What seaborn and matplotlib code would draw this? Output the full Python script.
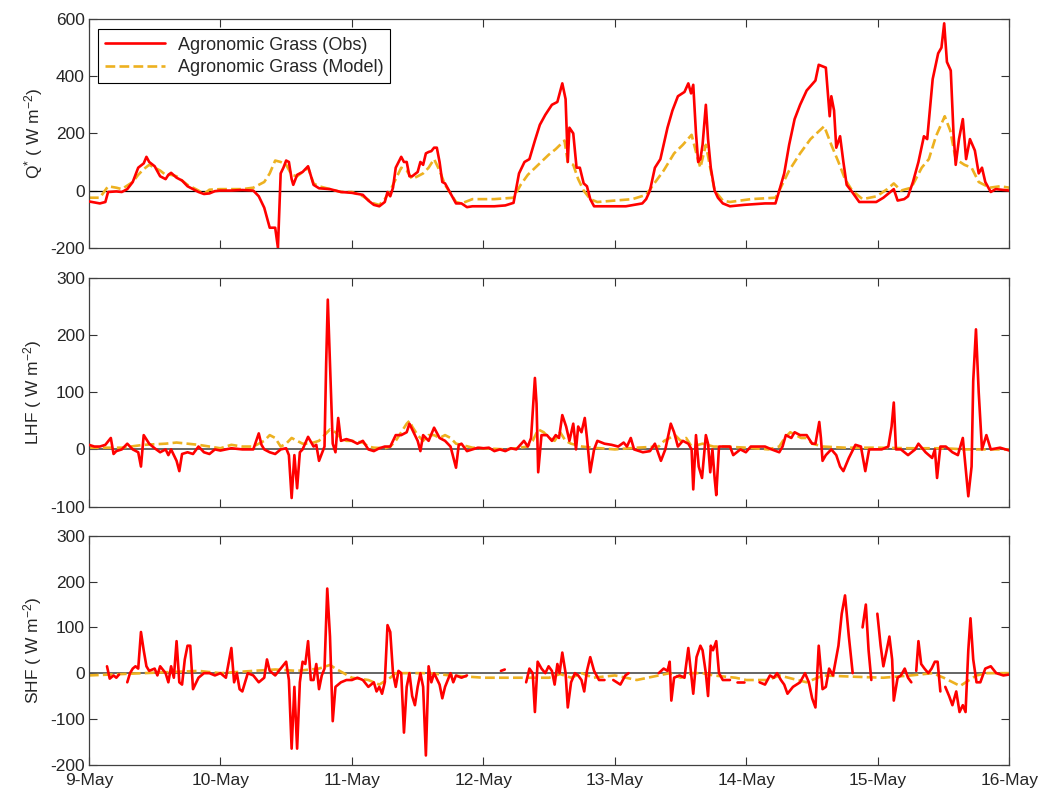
import numpy as np
import pandas as pd
import matplotlib
matplotlib.use("Agg")
import matplotlib.pyplot as plt
import matplotlib.dates as mdates
import seaborn as sns

START = pd.Timestamp("2013-05-09")
DAYS = 7

# (hours since 9-May 00:00, value); nan marks a gap in the record
QSTAR_OBS = [
    (0, -38), (2, -45), (3, -40), (3.5, -5), (5, -3), (6, -5), (7, 5), (8, 30), (9, 80), (10, 95),
    (10.5, 118), (11, 100), (12, 85), (13, 50), (14, 40), (14.5, 55), (15, 62), (16, 45), (17, 35),
    (18, 15), (19, 5), (20, -5), (21, -12), (22, -10), (23, -2),
    (24, 0), (26, 0), (28, 2), (30, 0), (31, -20), (32, -60), (33, -130), (34, -130), (34.5, -200),
    (35, 60), (35.5, 80), (36, 105), (36.5, 100), (37, 40), (37.3, 20), (38, 55), (39, 65), (40, 85),
    (41, 20), (42, 8), (44, 5), (46, -5),
    (48, -8), (50, -15), (51, -35), (52, -50), (53, -55), (54, -40), (54.5, -5), (55, -20), (55.5, 10),
    (56, 80), (57, 118), (57.5, 100), (58, 100), (58.5, 50), (59, 50), (60, 65), (60.5, 100), (61, 90),
    (61.5, 130), (62, 135), (62.5, 138), (63, 150), (63.5, 150), (64, 100), (64.5, 30), (65, 25),
    (66, -10), (67, -45), (68, -45), (69, -58), (70, -55),
    (72, -55), (74, -55), (76, -52), (77.5, -43), (78.5, 60), (79.5, 100), (80.4, 110), (81.4, 175),
    (82.3, 230), (83.3, 265), (84.5, 300), (85.5, 310), (86.4, 375), (87, 320), (87.4, 100), (87.7, 220),
    (88.4, 200), (89, 80), (89.6, 80), (90.3, 25), (90.9, 15), (91.5, -30), (92.2, -55), (94, -55),
    (96, -55), (98, -55), (101, -45), (101.7, -30), (102.4, 0), (103.3, 80), (104.3, 110), (104.9, 160),
    (105.6, 220), (106.5, 280), (107.5, 330), (108.7, 345), (109.4, 375), (109.9, 340), (110.3, 370),
    (110.8, 200), (111.2, 100), (111.6, 110), (112, 160), (112.6, 300), (113, 180), (113.5, 80),
    (114.2, 0), (114.8, -25), (115.7, -45), (117, -55), (119.6, -50),
    (123.4, -45), (125.3, -45), (126, 0), (126.9, 60), (127.8, 160), (128.8, 250), (129.8, 300),
    (131, 350), (132.6, 385), (133.2, 440), (134.5, 430), (135.2, 260), (135.5, 330), (136, 280),
    (136.4, 150), (137.1, 190), (137.7, 100), (138.3, 20), (139.3, -5), (140.6, -40), (143.7, -40),
    (145, -25), (146.9, 5), (147.6, -35), (148.8, -30), (149.5, -20), (150.4, 30), (151.4, 100),
    (152.4, 190), (153, 180), (154, 390), (155, 480), (155.6, 500), (156.1, 585), (156.6, 450),
    (157.3, 420), (157.8, 200), (158.2, 90), (158.8, 180), (159.5, 250), (160.1, 110), (160.8, 180),
    (161.7, 140), (162.4, 60), (163, 80), (163.6, 30), (164.6, -5), (165.5, 5), (168, 0),
]
QSTAR_MOD = [
    (0, -25), (2, -25), (3.5, 15), (5, 10), (6, 5), (8, 30), (9, 55), (10, 75), (11, 90), (12, 80),
    (13, 70), (14, 55), (15, 55), (16, 50), (18, 20), (20, 0), (21, -12), (22, 3), (24, 5), (28, 5),
    (30, 10), (32, 30), (33, 60), (34, 105), (35, 100), (36, 90), (37, 55), (38, 50), (39, 65), (40, 80),
    (41, 25), (42, 15), (44, 5), (46, -5), (48, -5), (50, -20), (52, -45), (53, -50), (54, -30), (55, 0),
    (56, 40), (57, 80), (58, 70), (59, 40), (60, 50), (61, 60), (62, 80), (63, 110), (64, 70), (65, 20),
    (66, -10), (67, -40), (68, -45), (70, -30), (74, -30), (77.5, -25), (78.8, 20), (80.1, 55), (82, 90),
    (83.9, 125), (85.2, 145), (86.8, 175), (87.4, 100), (88.4, 90), (89.3, 40), (90.3, 0), (91.5, -30),
    (92.8, -40), (96, -35), (99.2, -30), (101.7, -15), (103, 20), (104.9, 70), (106.8, 130), (108.4, 160),
    (110, 195), (111, 120), (111.6, 80), (112.6, 160), (113.2, 100), (114.2, 0), (115.7, -35), (117, -40),
    (120.8, -30), (125.3, -25), (126, 0), (127.8, 70), (129.8, 130), (131.7, 180), (134.2, 225),
    (135.5, 160), (136.8, 100), (138, 40), (139.3, 0), (141.2, -30), (143.8, -20), (145.7, 5), (146.9, 25),
    (148.2, 0), (150.1, 10), (152, 80), (153.3, 110), (154.6, 190), (156.2, 260), (157.2, 210),
    (158.2, 110), (159.8, 90), (161.1, 80), (162.4, 30), (164.4, 10), (166.3, 15), (168, 10),
]
LHF_OBS = [
    (0, 8), (1, 5), (2, 5), (3, 8), (4, 20), (4.5, -8), (5, -3), (6, 0), (7, 10), (8, 0), (9, -5),
    (9.5, -30), (10, 25), (11, 10), (12, 2), (13, -5), (14, 0), (14.5, -10), (15, 0), (16, -20),
    (16.5, -38), (17, -8), (18, -5), (19, -8), (20, 5), (21, -5), (22, -8), (23, 0), (24, -2), (26, 2),
    (28, 0), (30, 0), (31, 28), (31.5, 8), (32, 0), (33, -5), (34, -8), (35, 0), (36, 2), (36.5, -10),
    (37, -85), (37.5, -10), (38, -68), (38.5, -5), (39, 0), (40, 22), (41, 5), (41.5, 8), (42, -20),
    (43, 5), (43.3, 150), (43.6, 262), (44, 150), (44.5, 10), (45, -5), (45.5, 55), (46, 15), (47, 18),
    (48, 15), (49, 10), (50, 15), (51, 0), (52, -3), (53, 2), (54, 5), (55, 5), (56, 25), (57, 25),
    (58, 30), (58.5, 45), (59, 35), (60, 15), (60.5, -3), (61, 25), (62, 15), (63, 38), (64, 20),
    (65, 15), (66, 5), (67, -32), (67.5, 8), (68, 10), (69, -3), (70, 0), (71, 3), (72, 2), (73, 3),
    (74, -3), (75, 0), (76, -3), (77, 2), (78, 0), (79.4, 15), (80.1, 5), (80.7, 20), (81.4, 125),
    (81.7, 80), (82, -40), (82.6, 25), (83.6, 25), (84.5, 15), (85.2, 25), (85.8, 20), (86.4, 60),
    (87.1, 40), (87.7, 15), (88.4, 45), (88.9, 0), (89.3, 40), (89.9, 30), (90.5, 55), (90.9, 20),
    (91.5, -40), (92.2, 0), (92.8, 15), (94.1, 10), (95.4, 8), (96.6, 5), (97.6, 12), (98.2, 5),
    (98.9, 20), (99.5, 0), (101.1, -5), (102.4, -3), (103.3, 10), (104.4, -20), (105.2, 0), (106.2, 45),
    (106.8, 30), (107.5, 5), (108.4, 15), (109.4, 10), (110, 0), (110.3, -70), (110.8, 25), (111.3, -30),
    (111.9, -50), (112.6, 25), (113, 10), (113.4, -40), (113.8, 0), (114.2, -50), (114.5, -80), (115, 5),
    (115.7, 5), (117, 5), (117.6, -10), (118.9, 0), (119.9, -5), (120.8, 5), (123.4, 5), (124.6, 0),
    (126, -5), (126.6, 5), (127.2, 25), (128.2, 20), (128.8, 30), (129.8, 25), (131, 25), (132, 10),
    (132.6, 10), (133.3, 48), (133.6, 20), (133.9, -20), (134.5, -10), (135.5, 0), (136.4, -10),
    (137.1, -30), (137.7, -38), (138.7, -15), (139.9, 8), (140.9, 5), (141.7, -38), (142.4, 0),
    (143.4, 0), (144.7, 0), (145.9, 5), (146.5, 40), (146.9, 82), (147.3, 0), (148.2, 0), (149.5, -10),
    (150.8, 0), (151.4, 10), (152.7, -5), (153.9, -15), (154.4, 0), (154.8, -50), (155.4, 5), (156.4, 5),
    (157.6, -5), (158.6, -10), (159.5, 20), (160.1, -40), (160.5, -82), (161.1, -30), (161.4, 120),
    (161.9, 210), (162.4, 100), (163, 0), (163.8, 25), (164.6, 0), (166.3, 3), (168, -2),
]
LHF_MOD = [
    (0, 3), (4, 3), (6, 3), (10, 8), (14, 10), (16, 12), (18, 10), (20, 8), (22, 5), (24, 2), (26, 8),
    (28, 5), (30, 5), (32, 15), (33, 25), (34, 20), (35, 5), (36, 10), (37, 20), (38, 15), (39, 10),
    (40, 10), (41, 12), (42, 15), (43, 25), (44, 35), (45, 30), (46, 20), (47, 15), (48, 15), (50, 12),
    (51, 5), (52, 3), (54, 2), (55, 5), (56, 15), (57, 30), (58, 45), (58.5, 50), (59, 40), (60, 25),
    (61, 15), (62, 25), (63, 25), (64, 20), (65, 25), (66, 20), (67, 10), (68, 8), (70, 3), (72, 2),
    (76, 0), (78, 2), (80, 5), (81, 15), (82, 35), (83, 30), (84, 20), (85, 15), (86, 30), (87, 15),
    (88, 10), (90, 5), (92, 3), (96, 0), (100, 3), (104, 5), (105, 15), (106, 20), (107, 25), (108, 15),
    (109, 20), (110, 5), (112, 10), (114, 5), (116, 5), (120, 3), (124, 0), (126, 5), (127, 20),
    (128, 30), (129, 25), (130, 20), (131, 20), (132, 10), (134, 5), (138, 3), (144, 3), (150, 2),
    (156, 2), (160, 0), (164, 0), (168, 0),
]
nan = np.nan
SHF_OBS = [
    (3.3, 15), (3.8, -12), (4.5, -5), (5, -10), (5.5, -3), (6.2, nan), (7, -20), (7.5, 0), (8, 10),
    (8.5, 15), (9, 10), (9.5, 90), (10, 50), (10.5, 15), (11, 5), (12, 10), (12.5, -5), (13, 15), (14, 0),
    (14.5, -20), (15, 15), (15.5, -10), (16, 70), (16.5, -20), (17, -25), (17.5, 30), (18, 60),
    (18.5, 60), (19, -35), (20, -10), (21, 0), (22, 0), (23, -5), (24, 0), (25, -10), (26, 55),
    (26.5, -20), (27, 0), (27.5, -35), (28, -40), (29, 0), (30, -5), (31, -20), (32, -10), (32.5, 30),
    (33, 5), (34, -5), (35, 10), (36, 25), (36.5, -15), (37, -165), (37.5, -30), (38, -165), (38.5, -20),
    (39, 25), (39.5, 20), (40, 70), (40.5, -15), (41, -15), (41.5, 20), (42, -35), (42.5, -5), (43, 10),
    (43.5, 185), (44, 80), (44.5, -105), (45, -30), (46, -20), (47, -15), (48, -15), (49, -10), (50, -15),
    (51, -30), (52, -20), (52.5, -40), (53, -30), (53.5, -45), (54, -20), (54.5, 105), (55, 90),
    (55.5, 0), (56, -30), (56.5, 5), (57, 0), (57.5, -130), (58, -30), (58.5, 0), (59, -50), (59.5, -70),
    (60, -30), (60.5, 0), (61, -30), (61.5, -180), (62, 15), (62.5, -20), (63, 0), (64, -25),
    (64.5, -55), (65, -30), (66, 0), (66.5, -20), (67, -5), (68, -10), (69, -5), (69.5, nan),
    (75.2, 5), (75.9, 8), (76.2, nan),
    (79.8, -20), (80.4, 10), (81, 0), (81.4, -85), (81.9, 25), (82.6, 10), (83.3, 0), (83.9, 15),
    (84.5, 5), (85, -25), (85.5, 20), (85.9, 0), (86.4, 45), (87, 0), (87.4, -75), (88, -20), (88.7, 0),
    (89.3, -5), (89.9, -15), (90.4, -40), (90.9, 5), (91.5, 35), (92.2, 5), (93.1, -15), (94.1, -15),
    (94.7, nan), (95.7, -15), (97, -25), (97.9, -5), (98.5, 0), (99, nan), (104, 0), (104.9, 10),
    (105.6, 5), (106, 25), (106.3, -60), (106.8, -10), (107.8, -5), (108.7, -10), (109.4, 55),
    (109.9, 0), (110.3, -45), (110.9, 35), (111.6, 60), (112, 50), (112.6, 0), (113, -50), (113.5, 60),
    (113.9, 50), (114.5, 70), (115, 0), (115.7, -15), (117, -15), (117.4, nan), (118.3, -20),
    (119.6, -20), (120, nan), (122.4, -20), (123.4, -25), (124.3, -5), (125, -10), (125.6, 0),
    (126.3, -15), (126.9, -25), (127.5, -45), (128.5, -30), (129.8, -20), (130.7, 0), (131.4, -20),
    (132, -55), (132.6, -75), (133.2, 60), (133.9, -35), (134.5, -30), (135.1, 10), (135.8, -5),
    (136.8, 60), (137.4, 130), (138, 170), (138.7, 80), (139.4, 0), (140, nan), (141.2, 100),
    (141.8, 150), (142.3, 50), (142.8, -15), (143.2, nan), (143.9, 130), (144.5, 60), (145, 15),
    (145.6, 50), (146.1, 80), (146.6, 30), (146.9, -60), (147.6, -10), (148.2, -5), (148.9, 10),
    (149.5, -10), (150.1, -20), (150.5, nan), (151, 5), (151.4, 70), (151.9, 20), (152.5, 10),
    (153.2, 0), (153.8, 10), (154.4, 25), (154.9, 25), (155.4, -40), (155.7, nan), (156.3, -30),
    (157, -50), (157.6, -70), (158.3, -40), (158.9, -85), (159.5, -70), (160, -85), (160.5, 50),
    (160.9, 120), (161.4, 30), (162, -20), (162.7, -20), (163.6, 10), (164.6, 15), (165.6, 0),
    (166.9, -5), (168, -3),
]
SHF_MOD = [
    (0, -5), (4, -3), (10, 0), (16, 3), (20, 5), (24, 0), (30, 5), (34, 8), (38, 5), (42, 10), (44, 18),
    (45, 10), (48, -10), (51, -15), (53, -25), (55, -10), (56, 0), (62, 0), (66, -5), (72, -10),
    (80, -10), (84, -10), (86, -2), (88, -10), (90, 0), (92, -10), (96, -5), (100, -15), (104, -5),
    (106, 0), (108, -10), (110, 0), (112, 0), (114, -5), (118, -10), (120, -15), (124, -15), (126, -5),
    (131, -20), (134, -5), (140, -8), (145, -10), (150, -5), (154, 0), (156, -10), (159, -28), (162, -5),
    (164, 0), (168, 0),
]

PANELS = [
    (QSTAR_OBS, QSTAR_MOD, r"Q$^{*}$ ( W m$^{-2}$)", (-200, 600), [-200, 0, 200, 400, 600]),
    (LHF_OBS, LHF_MOD, r"LHF ( W m$^{-2}$)", (-100, 300), [-100, 0, 100, 200, 300]),
    (SHF_OBS, SHF_MOD, r"SHF ( W m$^{-2}$)", (-200, 300), [-200, -100, 0, 100, 200, 300]),
]
OBS_LABEL = "Agronomic Grass (Obs)"
MOD_LABEL = "Agronomic Grass (Model)"
OBS_COLOR = "#ff0000"
MOD_COLOR = "#EDB120"


def to_frame(pairs):
    df = pd.DataFrame(pairs, columns=["hour", "value"])
    df["time"] = START + pd.to_timedelta(df["hour"], unit="h")
    df["seg"] = df["value"].isna().cumsum()
    return df.dropna(subset=["value"])


sns.set_style("ticks")
plt.rcParams["font.family"] = ["Liberation Sans", "DejaVu Sans"]
plt.rcParams["mathtext.fontset"] = "custom"
plt.rcParams["mathtext.rm"] = "Liberation Sans"
plt.rcParams["mathtext.it"] = "Liberation Sans:italic"
plt.rcParams["axes.unicode_minus"] = False
plt.rcParams["font.size"] = 12.5

fig = plt.figure(figsize=(10.46, 7.94), dpi=100)
left, width, height = 0.085, 0.880, 0.288
bottoms = [0.688, 0.362, 0.037]

for i, (obs, mod, ylabel, ylim, yticks) in enumerate(PANELS):
    ax = fig.add_axes([left, bottoms[i], width, height])
    ax.axhline(0, color="k" if i == 0 else "0.35", lw=0.9 if i == 0 else 1.3, zorder=1)
    sns.lineplot(data=to_frame(obs), x="time", y="value", units="seg", estimator=None,
                 color=OBS_COLOR, lw=1.9, label=OBS_LABEL, ax=ax, zorder=3)
    sns.lineplot(data=to_frame(mod), x="time", y="value", units="seg", estimator=None,
                 color=MOD_COLOR, lw=1.9, linestyle="--", label=MOD_LABEL, ax=ax, zorder=2)
    ax.set_xlim(START, START + pd.Timedelta(days=DAYS))
    ax.set_ylim(*ylim)
    ax.set_yticks(yticks)
    ax.set_ylabel(ylabel, fontsize=12.5, labelpad=4)
    ax.set_xlabel("")
    ax.xaxis.set_major_locator(mdates.DayLocator())
    ax.xaxis.set_major_formatter(mdates.DateFormatter("%-d-%b"))
    ax.tick_params(direction="in", top=True, right=True, length=6, width=0.8,
                   labelsize=12.5, color="0.2")
    ax.tick_params(axis="x", pad=6)
    ax.tick_params(axis="y", pad=3)
    if i < 2:
        ax.tick_params(labelbottom=False)
    for sp in ax.spines.values():
        sp.set_linewidth(0.9)
        sp.set_color("0.25")
    if i == 0:
        leg = ax.legend(loc="upper left", bbox_to_anchor=(0.010, 0.955), borderaxespad=0,
                        frameon=True, fancybox=False, edgecolor="k", framealpha=1,
                        handlelength=3.3, fontsize=13, borderpad=0.4, labelspacing=0.3,
                        handletextpad=0.7)
        leg.get_frame().set_linewidth(0.8)
    else:
        ax.get_legend().remove()

fig.savefig("out.png", dpi=100)
